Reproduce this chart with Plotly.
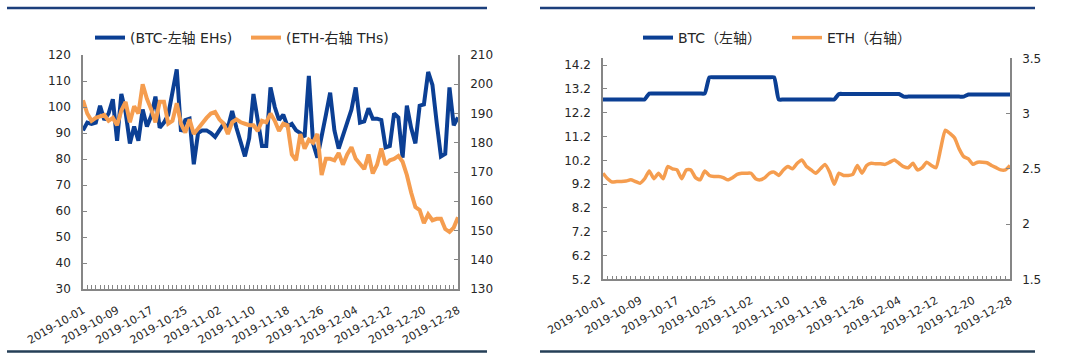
import pandas as pd
import plotly.graph_objects as go

# ---------------- data ----------------
dates = pd.date_range("2019-10-01", "2019-12-28", freq="D").strftime("%Y-%m-%d").tolist()
tick_dates = dates[::8]

# Left chart: hash rate
btc_hash_ehs = [
    91, 94, 93.5, 94, 100.5, 95, 97.5, 103, 87, 105,
    98, 86, 92.5, 87, 99, 92.5, 96.5, 104, 92, 94,
    97, 106, 114.5, 90.5, 95, 95.5, 78, 90, 91, 91,
    90, 88.5, 91, 93.5, 92, 98.5, 92, 87, 81, 88,
    105, 95, 85, 85, 107.5, 100, 95, 97, 92.5, 93.5,
    91, 90, 88.5, 112, 86, 80.5, 88, 97, 105.5, 91,
    84, 88.5, 94, 99, 107.5, 94, 94.5, 99.5, 95.5, 95.5,
    95, 84.5, 85, 97.5, 96, 80.5, 100.5, 92, 86, 100.5,
    101, 113.5, 108.5, 94, 81, 82, 107.5, 93, 96,
]
eth_hash_ths = [
    194.5, 190, 187.5, 188.5, 189, 189.5, 187.5, 188.5, 186, 191,
    194, 187, 192.5, 190, 200, 195, 191.5, 187, 194, 194,
    186.5, 187.5, 193.5, 186.5, 183.5, 188, 183, 185, 186.5, 188.5,
    190, 190.5, 188, 186.5, 183, 187, 188, 187, 186.5, 186,
    186, 184, 187.5, 187, 190, 187.5, 184, 186.5, 186, 176,
    174, 183, 178, 181, 180, 183, 169, 174.5, 174.5, 174,
    176.5, 172.5, 176, 178.5, 174.5, 172.5, 171, 176, 169.5, 172.5,
    178, 172.5, 174, 174.5, 175.5, 173.5, 169, 163, 158, 157,
    152.5, 155.5, 153.5, 154, 154, 150.5, 149.5, 151, 154.5,
]

# Right chart: difficulty
btc_diff = (
    [12.76] * 10 + [13.01] * 13 + [13.69] * 15 + [12.76] * 13
    + [12.99] * 14 + [12.88] * 14 + [12.97] * 10
)
eth_diff = [
    2.46, 2.41, 2.38, 2.385, 2.385, 2.39, 2.40, 2.385, 2.37, 2.41,
    2.48, 2.41, 2.46, 2.41, 2.52, 2.50, 2.49, 2.41, 2.49, 2.49,
    2.42, 2.40, 2.48, 2.44, 2.43, 2.43, 2.42, 2.40, 2.42, 2.45,
    2.46, 2.46, 2.46, 2.41, 2.40, 2.42, 2.46, 2.47, 2.44, 2.49,
    2.52, 2.50, 2.55, 2.58, 2.52, 2.49, 2.46, 2.50, 2.54, 2.47,
    2.36, 2.46, 2.44, 2.44, 2.45, 2.53, 2.46, 2.53, 2.55, 2.545,
    2.545, 2.54, 2.56, 2.58, 2.55, 2.52, 2.51, 2.55, 2.49, 2.51,
    2.56, 2.53, 2.51, 2.68, 2.85, 2.82, 2.78, 2.68, 2.61, 2.59,
    2.54, 2.56, 2.56, 2.555, 2.53, 2.51, 2.49, 2.49, 2.53,
]

left_y_ticks = list(range(30, 121, 10))
right_y_ticks = list(range(130, 211, 10))
diff_left_ticks = [round(5.2 + i, 1) for i in range(10)]
diff_right_ticks = [1.5, 2, 2.5, 3, 3.5]

# ---------------- style ----------------
BLUE = "#0b3f94"
ORANGE = "#f59d4f"
AXIS = "#868686"
TXT = "#262626"
FONT = "DejaVu Sans, Noto Sans CJK SC, sans-serif"
W, H = 1080, 358

fig = go.Figure()
fig.add_trace(go.Scatter(x=dates, y=btc_hash_ehs, name="(BTC-左轴 EHs)", mode="lines",
                         line=dict(color=BLUE, width=4), xaxis="x", yaxis="y", legend="legend"))
fig.add_trace(go.Scatter(x=dates, y=eth_hash_ths, name="(ETH-右轴 THs)", mode="lines",
                         line=dict(color=ORANGE, width=4), xaxis="x", yaxis="y2", legend="legend"))
fig.add_trace(go.Scatter(x=dates, y=btc_diff, name="BTC（左轴）", mode="lines",
                         line=dict(color=BLUE, width=4, shape="spline", smoothing=0.5),
                         xaxis="x2", yaxis="y3", legend="legend2"))
fig.add_trace(go.Scatter(x=dates, y=eth_diff, name="ETH（右轴）", mode="lines",
                         line=dict(color=ORANGE, width=3.5, shape="spline", smoothing=0.5),
                         xaxis="x2", yaxis="y4", legend="legend2"))

xcommon = dict(
    type="date", range=[dates[0], dates[-1]], tickvals=tick_dates, tickformat="%Y-%m-%d",
    tickangle=-30, ticks="inside", ticklen=4, tickcolor=AXIS, showline=True, linecolor=AXIS,
    linewidth=1.5, showgrid=False, zeroline=False, tickfont=dict(size=11, color=TXT),
    ticklabelstandoff=9, automargin=False,
    minor=dict(dtick=86400000, ticks="inside", ticklen=4, tickcolor=AXIS, showgrid=False),
)
ycommon = dict(showline=True, linecolor=AXIS, linewidth=1.5, showgrid=False, zeroline=False,
               ticks="inside", ticklen=4, tickcolor=AXIS, tickfont=dict(size=12, color=TXT),
               ticklabelstandoff=8, automargin=False)

fig.update_layout(
    width=W, height=H, autosize=False, margin=dict(l=0, r=0, t=0, b=0, pad=0, autoexpand=False),
    paper_bgcolor="white", plot_bgcolor="white",
    font=dict(family=FONT, color=TXT),
    xaxis=dict(domain=[83 / W, 458 / W], anchor="y", **xcommon),
    yaxis=dict(domain=[1 - 289 / H, 1 - 55 / H], anchor="x", range=[30, 120],
               tickvals=left_y_ticks, **ycommon),
    yaxis2=dict(overlaying="y", side="right", anchor="x", range=[130, 210],
                tickvals=right_y_ticks, **ycommon),
    xaxis2=dict(domain=[603 / W, 1010 / W], anchor="y3", **xcommon),
    yaxis3=dict(domain=[1 - 279.3 / H, 1 - 58.3 / H], anchor="x2", range=[5.2, 14.49],
                tickvals=diff_left_ticks, tickformat=".1f", **ycommon),
    yaxis4=dict(overlaying="y3", side="right", anchor="x2", range=[1.5, 3.5],
                tickvals=diff_right_ticks, **ycommon),
    legend=dict(orientation="h", xref="container", yref="container", entrywidth=111,
                x=90 / W, xanchor="left", y=1 - 38 / H, yanchor="middle",
                font=dict(size=14, color=TXT), bgcolor="rgba(0,0,0,0)"),
    legend2=dict(orientation="h", xref="container", yref="container", entrywidth=104,
                 x=638 / W, xanchor="left", y=1 - 38 / H, yanchor="middle",
                 font=dict(size=14, color=TXT), bgcolor="rgba(0,0,0,0)"),
    showlegend=True,
)

# header and footer rules of the two panels
for x0, x1 in [(7, 487), (540, 1035)]:
    fig.add_shape(type="line", xref="paper", yref="paper", x0=x0 / W, x1=x1 / W,
                  y0=1 - 8 / H, y1=1 - 8 / H, line=dict(color="#1c3f7c", width=2.5))
    fig.add_shape(type="line", xref="paper", yref="paper", x0=x0 / W, x1=x1 / W,
                  y0=1 - 351.5 / H, y1=1 - 351.5 / H, line=dict(color="#253f57", width=2.5))

fig.write_html(
    "out.html",
    config={"displayModeBar": False},
    post_script="document.body.style.margin='0';document.body.style.overflow='hidden';",
)
